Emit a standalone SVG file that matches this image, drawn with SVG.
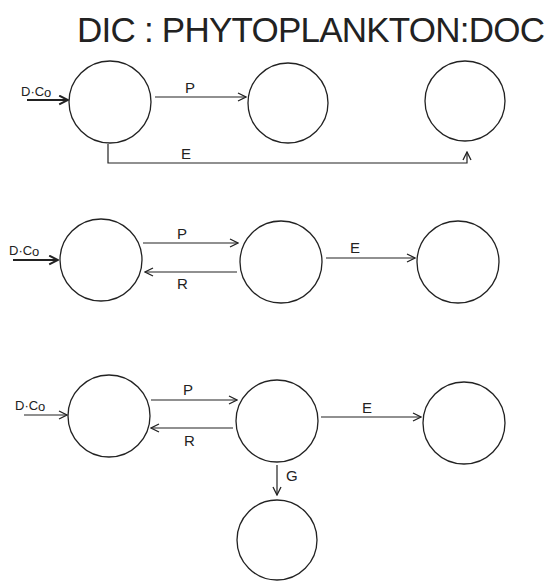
<svg xmlns="http://www.w3.org/2000/svg" width="556" height="581" viewBox="0 0 556 581">
<defs>
<style>
.n{fill:none;stroke:#222;stroke-width:1.3}
.c{fill:none;stroke:#222;stroke-width:1.2}
.in{fill:none;stroke:#222;stroke-width:2}
.t{font-family:"Liberation Sans",Arial,sans-serif;fill:#222}
.lab{font-size:15px}
.dc{font-size:13px}
</style>
<marker id="a" viewBox="0 0 10 10" refX="9" refY="5" markerWidth="10" markerHeight="10" markerUnits="userSpaceOnUse" orient="auto">
<path d="M1,1 L9,5 L1,9" fill="none" stroke="#222" stroke-width="1.3"/>
</marker>
<marker id="ai" viewBox="0 0 10 10" refX="9" refY="5" markerWidth="11" markerHeight="11" markerUnits="userSpaceOnUse" orient="auto">
<path d="M1,1 L9,5 L1,9" fill="none" stroke="#222" stroke-width="1.8"/>
</marker>
</defs>
<rect width="556" height="581" fill="#fff"/>
<text class="t" x="77" y="42" font-size="35" textLength="468" lengthAdjust="spacing">DIC : PHYTOPLANKTON:DOC</text>

<g id="r1n1"><circle class="n" cx="110" cy="102" r="41"/></g>
<g id="r1n2"><circle class="n" cx="288" cy="103" r="40"/></g>
<g id="r1n3"><circle class="n" cx="465" cy="101" r="40"/></g>

<g id="r2n1"><circle class="n" cx="101" cy="260" r="41"/></g>
<g id="r2n2"><circle class="n" cx="281" cy="262" r="41"/></g>
<g id="r2n3"><circle class="n" cx="458" cy="262" r="41"/></g>

<g id="r3n1"><circle class="n" cx="109" cy="416" r="41"/></g>
<g id="r3n2"><circle class="n" cx="277" cy="421" r="41"/></g>
<g id="r3n3"><circle class="n" cx="464" cy="423" r="41"/></g>
<g id="r3n4"><circle class="n" cx="277" cy="540" r="40"/></g>

<g id="connectors">
<line class="in" x1="27" y1="100" x2="68" y2="100" marker-end="url(#ai)"/>
<line class="c" x1="155" y1="97" x2="246" y2="97" marker-end="url(#a)"/>
<polyline class="c" points="108,144 108,163 467,163 467,152" marker-end="url(#a)"/>

<line class="in" x1="13" y1="260" x2="58" y2="260" marker-end="url(#ai)"/>
<line class="c" x1="143" y1="243" x2="238" y2="243" marker-end="url(#a)"/>
<line class="c" x1="237" y1="272" x2="145" y2="272" marker-end="url(#a)"/>
<line class="c" x1="326" y1="258" x2="415" y2="258" marker-end="url(#a)"/>

<line class="c" x1="24" y1="415" x2="67" y2="415" marker-end="url(#a)"/>
<line class="c" x1="151" y1="400" x2="237" y2="400" marker-end="url(#a)"/>
<line class="c" x1="233" y1="428" x2="151" y2="428" marker-end="url(#a)"/>
<line class="c" x1="321" y1="417" x2="421" y2="417" marker-end="url(#a)"/>
<line class="c" x1="277" y1="465" x2="277" y2="495" marker-end="url(#a)"/>
</g>

<g id="labels">
<text class="t dc" x="21" y="96">D·C<tspan dy="1">o</tspan></text>
<text class="t lab" x="185" y="93">P</text>
<text class="t lab" x="181" y="159">E</text>

<text class="t dc" x="9" y="255">D·C<tspan dy="1">o</tspan></text>
<text class="t lab" x="177" y="239">P</text>
<text class="t lab" x="177" y="289">R</text>
<text class="t lab" x="350" y="253">E</text>

<text class="t dc" x="15" y="410">D·C<tspan dy="1">o</tspan></text>
<text class="t lab" x="183" y="395">P</text>
<text class="t lab" x="184" y="446">R</text>
<text class="t lab" x="362" y="413">E</text>
<text class="t lab" x="286" y="481">G</text>
</g>
</svg>
